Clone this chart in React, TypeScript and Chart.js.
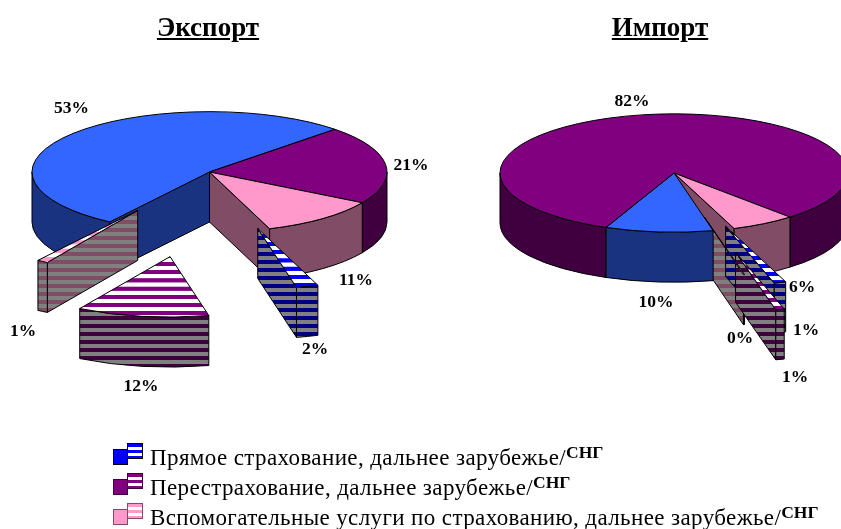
import React, { useEffect, useRef } from "react";
import { Chart, registerables } from "chart.js";

Chart.register(...registerables);

const categories = [
  "Прямое страхование, дальнее зарубежье",
  "Перестрахование, дальнее зарубежье",
  "Вспомогательные услуги по страхованию, дальнее зарубежье",
  "Прямое страхование, СНГ",
  "Перестрахование, СНГ",
  "Вспомогательные услуги по страхованию, СНГ",
];
const exportValues = [53, 21, 11, 2, 12, 1];
const importValues = [10, 82, 6, 1.1, 0.8, 0.1];

// Presentation of each pie (not data)
const exportExplode = [0, 0, 0, 173, 252, 134];
const importExplode = [0, 0, 0, 165, 241, 133];
const exportWallOrder = [0, 1, 2, 5, 3, 4];
const importWallOrder = [1, 2, 5, 0, 3, 4];
const exportLabelPos = [[71.5, 108], [411, 165], [356, 280], [315, 349], [141, 386], [23, 331]];
const importLabelPos = [[656, 302], [632, 101], [802, 287], [806, 330], [795, 377], [740, 338]];

const topColors = ["#3366ff", "#800080", "#ff99cc", "#0000ff", "#800080", "#ff99cc"];
const wallColors = ["#1a3380", "#400040", "#804c66", "#000080", "#400040", "#804c66"];
const STRIPED_FROM = 3;
const SQUASH = 0.34;
const DEPTH = 50;
const STRIPE = 8;
const BLEED = 100; // canvases overhang the page so the pie radius is not limited by the chart area
const SERIF = "'Liberation Serif', serif";

function stripes(a: string, b: string, period: number): CanvasPattern {
  const c = document.createElement("canvas");
  c.width = 2;
  c.height = Math.round(period);
  const g = c.getContext("2d")!;
  g.fillStyle = a;
  g.fillRect(0, 0, 2, c.height);
  g.fillStyle = b;
  g.fillRect(0, c.height / 2, 2, c.height / 2);
  return g.createPattern(c, "repeat")!;
}

function tops() {
  return topColors.map((col, i) => (i >= STRIPED_FROM ? stripes(col, "#ffffff", STRIPE / SQUASH) : col));
}
function walls() {
  return wallColors.map((col, i) => (i >= STRIPED_FROM ? stripes(col, "#808080", STRIPE) : col));
}

function geom(arc: any, explode: number) {
  const { x, y, startAngle, endAngle, outerRadius } = arc;
  const mid = (startAngle + endAngle) / 2;
  return {
    dx: Math.cos(mid) * explode,
    dy: Math.sin(mid) * explode,
    cx: x + Math.cos(mid) * explode,
    cy: y + Math.sin(mid) * explode * SQUASH,
    r: outerRadius,
    a1: startAngle,
    a2: endAngle,
  };
}

function paintWall(ctx: CanvasRenderingContext2D, fill: any, path: () => void) {
  ctx.beginPath();
  path();
  ctx.closePath();
  ctx.fillStyle = fill;
  ctx.fill();
  ctx.strokeStyle = "#000";
  ctx.lineWidth = 1;
  ctx.stroke();
}

function drawWalls(ctx: CanvasRenderingContext2D, arc: any, fill: any, explode: number) {
  const { cx, cy, r, a1, a2 } = geom(arc, explode);
  const radial = (a: number) => {
    const px = cx + r * Math.cos(a);
    const py = cy + r * Math.sin(a) * SQUASH;
    paintWall(ctx, fill, () => {
      ctx.moveTo(cx, cy);
      ctx.lineTo(px, py);
      ctx.lineTo(px, py + DEPTH);
      ctx.lineTo(cx, cy + DEPTH);
    });
  };
  if (Math.cos(a1) < 0) radial(a1);
  if (Math.cos(a2) > 0) radial(a2);
  for (const k of [-2, 0, 2]) {
    const from = Math.max(a1, k * Math.PI);
    const to = Math.min(a2, (k + 1) * Math.PI);
    if (to <= from) continue;
    paintWall(ctx, fill, () => {
      ctx.ellipse(cx, cy, r, r * SQUASH, 0, from, to);
      ctx.ellipse(cx, cy + DEPTH, r, r * SQUASH, 0, to, from, true);
    });
  }
}

const pie3d = {
  id: "pie3d",
  beforeDatasetDraw(chart: any, args: any, opts: any) {
    const ctx = chart.ctx;
    const arcs = args.meta.data;
    const wf = walls();
    for (const i of opts.order) drawWalls(ctx, arcs[i], wf[i], opts.explode[i]);
    arcs.forEach((arc: any, i: number) => {
      const { dx, dy } = geom(arc, opts.explode[i]);
      ctx.save();
      ctx.translate(arc.x, arc.y);
      ctx.scale(1, SQUASH);
      ctx.translate(dx - arc.x, dy - arc.y);
      arc.draw(ctx, chart.chartArea);
      ctx.restore();
      const { cx, cy, r, a1, a2 } = geom(arc, opts.explode[i]);
      ctx.beginPath();
      ctx.moveTo(cx, cy);
      ctx.ellipse(cx, cy, r, r * SQUASH, 0, a1, a2);
      ctx.closePath();
      ctx.strokeStyle = "#000";
      ctx.lineWidth = 1;
      ctx.stroke();
    });
    return false;
  },
  afterDraw(chart: any, _a: any, opts: any) {
    const ctx = chart.ctx;
    const vals: number[] = chart.data.datasets[0].data;
    const total = vals.reduce((s, v) => s + v, 0);
    ctx.save();
    ctx.font = `bold 17.5px ${SERIF}`;
    ctx.fillStyle = "#000";
    ctx.textAlign = "center";
    ctx.textBaseline = "middle";
    vals.forEach((v, i) => {
      const [px, py] = opts.labels[i];
      ctx.fillText(`${Math.round((v / total) * 100)}%`, px + BLEED, py + BLEED);
    });
    ctx.restore();
  },
};

function makePie(
  canvas: HTMLCanvasElement,
  values: number[],
  explode: number[],
  radius: number,
  rotation: number,
  padding: any,
  order: number[],
  labels: number[][]
) {
  return new Chart(canvas, {
    type: "pie",
    data: {
      labels: categories,
      datasets: [
        {
          data: values,
          backgroundColor: tops(),
          borderWidth: 0,
          radius,
          clip: false,
        } as any,
      ],
    },
    options: {
      responsive: false,
      animation: false,
      rotation,
      layout: { padding },
      events: [],
      plugins: {
        legend: { display: false },
        title: { display: false },
        tooltip: { enabled: false },
        pie3d: { order, labels, explode },
      } as any,
    },
    plugins: [pie3d as any],
  });
}

const legendRows = [
  { text: "Прямое страхование, дальнее зарубежье/", color: "#0000ff", border: "#000", top: 443 },
  { text: "Перестрахование, дальнее зарубежье/", color: "#800080", border: "#400040", top: 473 },
  { text: "Вспомогательные услуги по страхованию, дальнее зарубежье/", color: "#ff99cc", border: "#804c66", top: 503 },
];

function titleStyle(cx: number): React.CSSProperties {
  return {
    position: "absolute",
    left: cx,
    top: 12,
    transform: "translateX(-50%)",
    font: `bold 27px ${SERIF}`,
    textDecoration: "underline",
    color: "#000",
    whiteSpace: "nowrap",
  };
}

export default function App() {
  const a = useRef<HTMLCanvasElement>(null);
  const b = useRef<HTMLCanvasElement>(null);
  useEffect(() => {
    const c1 = makePie(a.current!, exportValues, exportExplode, 177.5, 214.2,
      { left: 0, right: 481, top: 0, bottom: 156 }, exportWallOrder, exportLabelPos);
    const c2 = makePie(b.current!, importValues, importExplode, 174, 167,
      { left: 448, right: 0, top: 0, bottom: 154 }, importWallOrder, importLabelPos);
    return () => {
      c1.destroy();
      c2.destroy();
    };
  }, []);
  const canvasStyle: React.CSSProperties = { position: "absolute", left: -BLEED, top: -BLEED };
  return (
    <div style={{ position: "fixed", left: 0, top: 0, width: 841, height: 529, background: "#fff", overflow: "hidden" }}>
      <canvas ref={a} width={1100} height={700} style={canvasStyle} />
      <canvas ref={b} width={1100} height={700} style={canvasStyle} />
      <div style={titleStyle(208)}>Экспорт</div>
      <div style={titleStyle(660)}>Импорт</div>
      {legendRows.map((row) => (
        <div key={row.text}>
          <div style={{ position: "absolute", left: 113, top: row.top + 6, width: 15, height: 16, background: row.color, border: `1px solid ${row.border}`, boxSizing: "border-box" }} />
          <div style={{ position: "absolute", left: 127, top: row.top, width: 16, height: 16, border: `1px solid ${row.border}`, boxSizing: "border-box",
            background: `repeating-linear-gradient(${row.color} 0 3px, #fff 3px 6px)` }} />
          <div style={{ position: "absolute", left: 150, top: row.top, height: 29, font: `23px/29px ${SERIF}`, letterSpacing: 0.39, color: "#000", whiteSpace: "nowrap" }}>
            {row.text}
            <span style={{ font: `bold 17.5px ${SERIF}`, letterSpacing: 0, position: "relative", top: -7 }}>СНГ</span>
          </div>
        </div>
      ))}
    </div>
  );
}
